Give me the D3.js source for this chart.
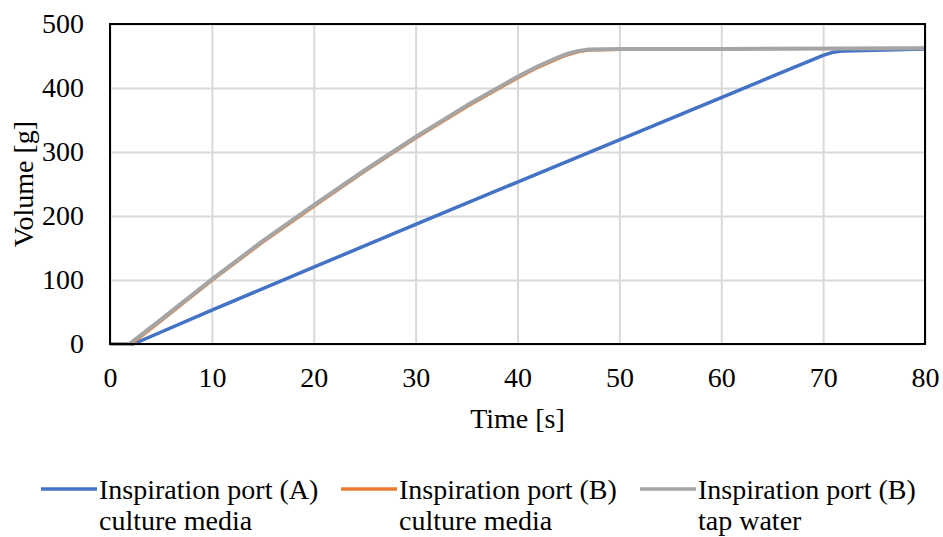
<!DOCTYPE html>
<html>
<head>
<meta charset="utf-8">
<script src="https://cdn.jsdelivr.net/npm/d3@7"></script>
<style>
  body { margin: 0; background: #fff; }
  text { font-family: "Liberation Serif", "Times New Roman", serif; fill: #000; }
</style>
</head>
<body>
<svg width="943" height="537"></svg>
<script>
var xTicks = [0, 10, 20, 30, 40, 50, 60, 70, 80]
var yTicks = [0, 100, 200, 300, 400, 500]

// [time, volume]
var portA = [[0, 0], [2.3, 0], [10, 53], [20, 120], [30, 187], [40, 253], [50, 319], [60, 385], [65, 418], [70, 451], [71, 456], [72, 458], [75, 459], [80, 461]]
var portBMedia = [[0, 0], [2.1, 0], [5, 36], [10, 99], [15, 159], [20, 215], [25, 269.5], [30, 321.5], [35, 370.5], [40, 415.5], [42, 432], [44, 446], [45, 452], [46, 456.5], [47, 459], [50, 460], [60, 461], [80, 462]]
var portBWater = [[0, 0], [1.9, 0], [5, 38], [10, 101], [15, 161], [20, 217], [25, 271.5], [30, 323.5], [35, 372.5], [40, 417.5], [42, 434], [44, 448], [45, 454], [46, 458], [47, 460], [50, 461], [60, 461], [80, 462]]

var series = [
  {name: ["Inspiration port (A)", "culture media"], data: portA, color: "#4472c4", width: 3.5},
  {name: ["Inspiration port (B)", "culture media"], data: portBMedia, color: "#ed7d31", width: 3},
  {name: ["Inspiration port (B)", "tap water"], data: portBWater, color: "#a5a5a5", width: 4}
]

var svg = d3.select("svg")
var plotLeft = 110, plotRight = 925, plotTop = 24, plotBottom = 344
var fontSize = "28px"

var x = d3.scaleLinear().domain([0, 80]).range([plotLeft, plotRight])
var y = d3.scaleLinear().domain([0, 500]).range([plotBottom, plotTop])

// gridlines
svg.append("g")
  .attr("transform", "translate(0," + plotBottom + ")")
  .call(d3.axisBottom(x).tickValues(xTicks).tickSize(-(plotBottom - plotTop)).tickFormat(""))
  .call(function (g) {
    g.select(".domain").remove()
    g.selectAll("line").attr("stroke", "#d9d9d9").attr("stroke-width", 2)
  })
svg.append("g")
  .attr("transform", "translate(" + plotLeft + ",0)")
  .call(d3.axisLeft(y).tickValues(yTicks).tickSize(-(plotRight - plotLeft)).tickFormat(""))
  .call(function (g) {
    g.select(".domain").remove()
    g.selectAll("line").attr("stroke", "#d9d9d9").attr("stroke-width", 2)
  })

// tick labels
svg.append("g")
  .attr("transform", "translate(0," + plotBottom + ")")
  .call(d3.axisBottom(x).tickValues(xTicks).tickSize(0).tickPadding(23))
  .call(function (g) {
    g.select(".domain").remove()
    g.selectAll("text").style("font-size", fontSize).attr("fill", "#000")
  })
svg.append("g")
  .attr("transform", "translate(" + plotLeft + ",0)")
  .call(d3.axisLeft(y).tickValues(yTicks).tickSize(0).tickPadding(26))
  .call(function (g) {
    g.select(".domain").remove()
    g.selectAll("text").style("font-size", fontSize).attr("fill", "#000")
  })

// lines
var line = d3.line()
  .x(function (d) { return x(d[0]) })
  .y(function (d) { return y(d[1]) })

series.forEach(function (s) {
  svg.append("path")
    .datum(s.data)
    .attr("d", line)
    .attr("fill", "none")
    .attr("stroke", s.color)
    .attr("stroke-width", s.width)
    .attr("stroke-linejoin", "round")
})

// plot border
svg.append("rect")
  .attr("x", plotLeft).attr("y", plotTop)
  .attr("width", plotRight - plotLeft).attr("height", plotBottom - plotTop)
  .attr("fill", "none").attr("stroke", "#000").attr("stroke-width", 2)

// axis titles
svg.append("text")
  .attr("x", (plotLeft + plotRight) / 2).attr("y", 428)
  .attr("text-anchor", "middle")
  .style("font-size", fontSize)
  .text("Time [s]")
svg.append("text")
  .attr("transform", "translate(33," + (plotTop + plotBottom) / 2 + ") rotate(-90)")
  .attr("text-anchor", "middle")
  .style("font-size", fontSize)
  .text("Volume [g]")

// legend
var legendX = [41, 341, 640]
series.forEach(function (s, i) {
  var g = svg.append("g").attr("transform", "translate(" + legendX[i] + ",489)")
  g.append("line")
    .attr("x1", 0).attr("x2", 56)
    .attr("y1", 0).attr("y2", 0)
    .attr("stroke", s.color).attr("stroke-width", 3.5)
  g.append("text")
    .attr("x", 58).attr("y", 10)
    .style("font-size", fontSize)
    .text(s.name[0])
  g.append("text")
    .attr("x", 58).attr("y", 41)
    .style("font-size", fontSize)
    .text(s.name[1])
})
</script>
</body>
</html>
